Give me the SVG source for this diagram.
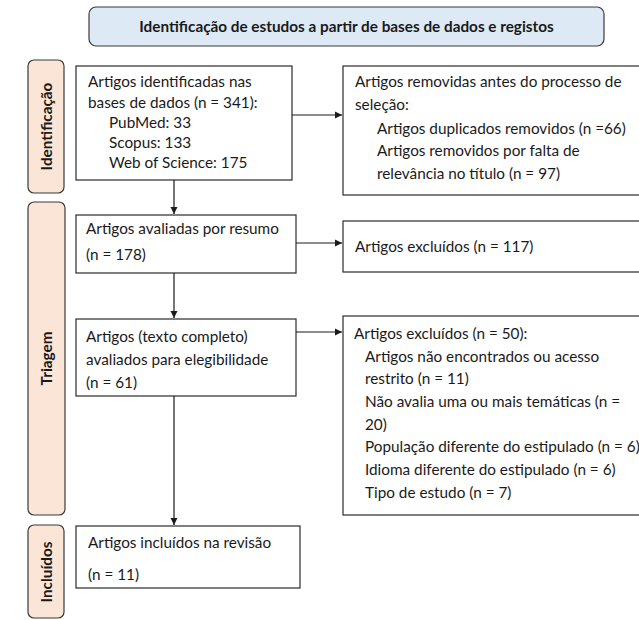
<svg xmlns="http://www.w3.org/2000/svg" width="639" height="620" viewBox="0 0 639 620">
<defs>
<style>
.bx{fill:#fff;stroke:#2b2b2b;stroke-width:1.2}
.hd{fill:#dde9f5;stroke:#3a3a3a;stroke-width:1.2}
.sd{fill:#fbe5d7;stroke:#3a3a3a;stroke-width:1.2}
.t{font-family:Lato,"Open Sans","Liberation Sans",sans-serif;font-size:15.3px;fill:#1a1a1a}
.b{font-family:Lato,"Open Sans","Liberation Sans",sans-serif;font-size:15.3px;font-weight:bold;fill:#1a1a1a}
.c{stroke:#1a1a1a;stroke-width:1.2;fill:none}
</style>
<marker id="ah" markerWidth="8" markerHeight="8" refX="7" refY="4" orient="auto" markerUnits="userSpaceOnUse">
<path d="M0,0.5 L7,4 L0,7.5 Z" fill="#1a1a1a"/>
</marker>
</defs>
<rect width="639" height="620" fill="#fff"/>
<g id="header">
<rect class="hd" x="89" y="7" width="515" height="39" rx="7"/>
<text class="b" x="346.5" y="32" text-anchor="middle">Identificação de estudos a partir de bases de dados e registos</text>
</g>
<g id="lbl-identificacao">
<rect class="sd" x="28" y="60" width="36" height="133" rx="6"/>
<text class="b" transform="translate(51.5,126.5) rotate(-90)" text-anchor="middle">Identificação</text>
</g>
<g id="lbl-triagem">
<rect class="sd" x="28" y="202" width="37" height="313" rx="6"/>
<text class="b" transform="translate(51.5,358.5) rotate(-90)" text-anchor="middle">Triagem</text>
</g>
<g id="lbl-incluidos">
<rect class="sd" x="28" y="525" width="36" height="93" rx="6"/>
<text class="b" transform="translate(51.5,572) rotate(-90)" text-anchor="middle">Incluídos</text>
</g>
<g id="box-identificados">
<rect class="bx" x="76" y="66" width="216" height="114"/>
<text class="t" x="88" y="87">Artigos identificadas nas</text>
<text class="t" x="88" y="108">bases de dados (n = 341):</text>
<text class="t" x="109" y="128">PubMed: 33</text>
<text class="t" x="109" y="148">Scopus: 133</text>
<text class="t" x="109" y="168">Web of Science: 175</text>
</g>
<g id="box-removidas">
<rect class="bx" x="343" y="66" width="310" height="129"/>
<text class="t" x="355" y="87">Artigos removidas antes do processo de</text>
<text class="t" x="355" y="110">seleção:</text>
<text class="t" x="377" y="134">Artigos duplicados removidos (n =66)</text>
<text class="t" x="377" y="156">Artigos removidos por falta de</text>
<text class="t" x="377" y="179">relevância no título (n = 97)</text>
</g>
<g id="box-resumo">
<rect class="bx" x="76" y="215" width="220" height="58"/>
<text class="t" x="86" y="234">Artigos avaliadas por resumo</text>
<text class="t" x="86" y="260">(n = 178)</text>
</g>
<g id="box-excl117">
<rect class="bx" x="343" y="221" width="310" height="51"/>
<text class="t" x="355" y="252">Artigos excluídos (n = 117)</text>
</g>
<g id="box-elegibilidade">
<rect class="bx" x="76" y="319" width="220" height="77"/>
<text class="t" x="86" y="342">Artigos (texto completo)</text>
<text class="t" x="86" y="365">avaliados para elegibilidade</text>
<text class="t" x="86" y="388">(n = 61)</text>
</g>
<g id="box-excl50">
<rect class="bx" x="343" y="316" width="310" height="199"/>
<text class="t" x="354" y="339">Artigos excluídos (n = 50):</text>
<text class="t" x="365" y="362">Artigos não encontrados ou acesso</text>
<text class="t" x="365" y="384">restrito (n = 11)</text>
<text class="t" x="365" y="407">Não avalia uma ou mais temáticas (n =</text>
<text class="t" x="365" y="430">20)</text>
<text class="t" x="365" y="452">População diferente do estipulado (n = 6)</text>
<text class="t" x="365" y="475">Idioma diferente do estipulado (n = 6)</text>
<text class="t" x="365" y="498">Tipo de estudo (n = 7)</text>
</g>
<g id="box-incluidos">
<rect class="bx" x="76" y="526" width="224" height="62"/>
<text class="t" x="88" y="548">Artigos incluídos na revisão</text>
<text class="t" x="88" y="580">(n = 11)</text>
</g>
<g id="connectors">
<path class="c" d="M292,115 H342" marker-end="url(#ah)"/>
<path class="c" d="M174,180 V214" marker-end="url(#ah)"/>
<path class="c" d="M296,243 H342" marker-end="url(#ah)"/>
<path class="c" d="M174,273 V318" marker-end="url(#ah)"/>
<path class="c" d="M296,332 H342" marker-end="url(#ah)"/>
<path class="c" d="M174,396 V525" marker-end="url(#ah)"/>
</g>
</svg>
